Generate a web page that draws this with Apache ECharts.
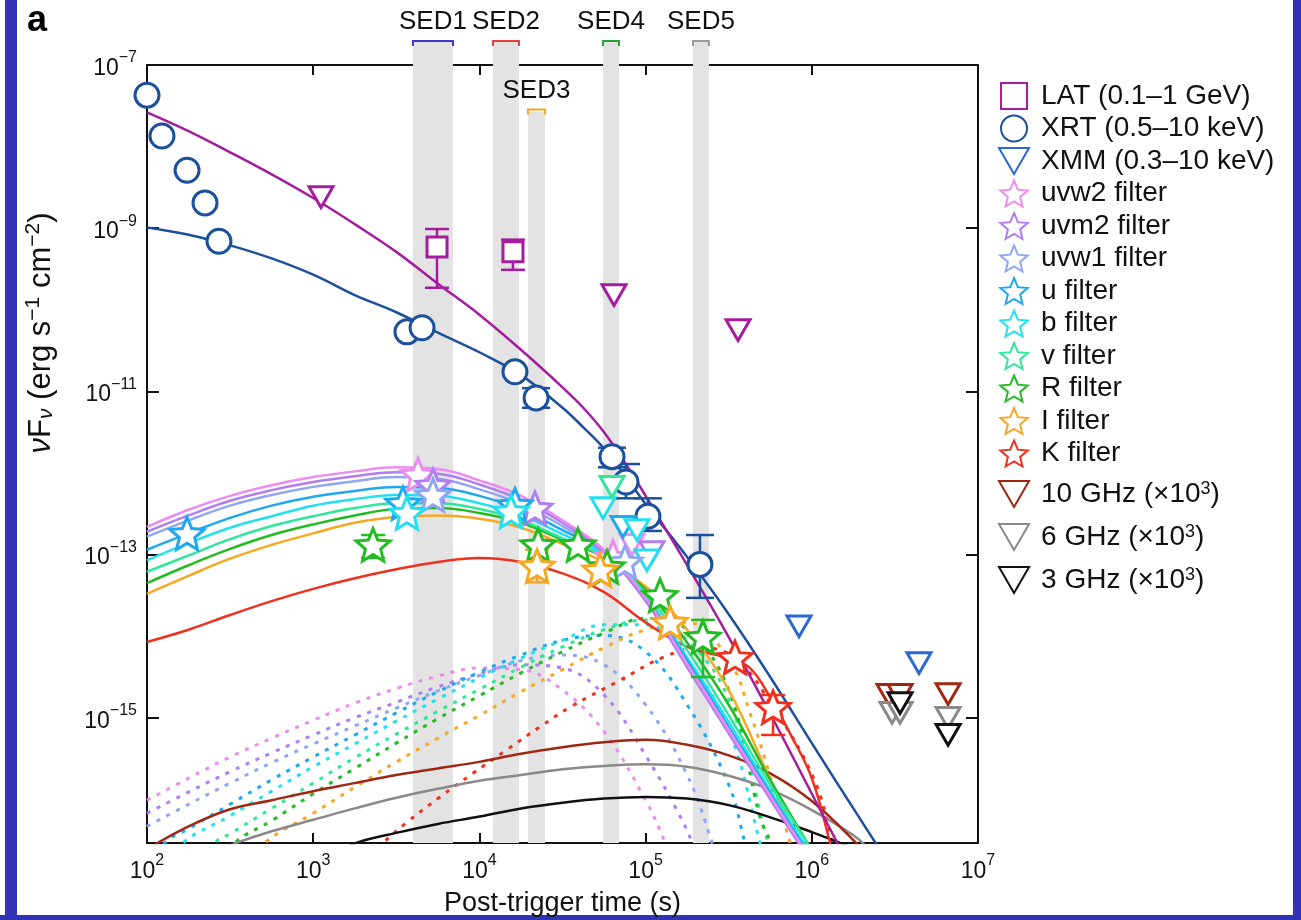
<!DOCTYPE html>
<html>
<head>
<meta charset="utf-8">
<script src="https://cdn.jsdelivr.net/npm/echarts@6/dist/echarts.min.js"></script>
<style>
html, body { margin: 0; padding: 0; background: #fff; }
#main { width: 1301px; height: 920px; }
</style>
</head>
<body>
<div id="main"></div>
<script>
// every value below is log10: [log10 t (s), log10 nuFnu (erg s-1 cm-2)]
// error bars: [log10 t, low, high]

// --- SED windows
var sedNames = ['SED1', 'SED2', 'SED3', 'SED4', 'SED5'];
var sedStart = [3.600, 4.082, 4.292, 4.744, 5.285];
var sedEnd = [3.841, 4.238, 4.395, 4.840, 5.381];
var sedColors = ['#3a3acc', '#e54040', '#f5a623', '#2e9e3a', '#9a9a9a'];
var sed3Top = -7.57;

// --- measurements
var latPts = [[3.745, -9.23], [4.202, -9.29]];
var latErr = [[3.745, -9.73, -9.01], [4.202, -9.51, -9.14]];
var latUL = [[3.047, -8.62], [4.810, -9.82], [5.556, -10.25]];
var xrtPts = [[2.0, -7.37], [2.090, -7.87], [2.241, -8.29], [2.349, -8.69], [2.433, -9.16],
  [3.564, -10.27], [3.655, -10.22], [4.214, -10.76], [4.341, -11.08], [4.798, -11.80],
  [4.882, -12.11], [5.014, -12.53], [5.327, -13.12]];
var xrtErr = [[4.341, -11.20, -10.96], [4.798, -11.93, -11.69], [4.882, -12.31, -11.89],
  [5.014, -12.71, -12.31], [5.327, -13.53, -12.76]];
var xmmUL = [[5.923, -13.88], [6.645, -14.33]];

var uvw2Pts = [[3.631, -12.02], [4.804, -13.03]];
var uvm2Pts = [[3.721, -12.15], [4.334, -12.43]];
var uvw1Pts = [[3.721, -12.27], [4.876, -13.09]];
var uPts = [[2.241, -12.74], [3.540, -12.37], [4.214, -12.39]];
var bPts = [[3.564, -12.49], [4.190, -12.47]];
var vPts = [];
var rPts = [[3.360, -12.88], [4.353, -12.88], [4.593, -12.88], [4.768, -13.15], [5.087, -13.50], [5.345, -14.01]];
var rErr = [[3.360, -13.04, -12.76], [5.345, -14.50, -13.80]];
var iPts = [[4.347, -13.14], [4.726, -13.19], [5.147, -13.83]];
var iErr = [[4.347, -13.34, -12.94]];
var kPts = [[5.538, -14.26], [5.767, -14.87]];
var kErr = [[5.767, -15.21, -14.72]];

var uvw2UL = [[4.918, -12.88]];
var uvm2UL = [[5.038, -12.97]];
var uUL = [[4.864, -12.66]];
var bUL = [[4.744, -12.43], [4.948, -12.70], [5.008, -13.07]];
var vUL = [[4.798, -12.17]];

var r10Pts = [[6.465, -14.72], [6.531, -14.72], [6.820, -14.71]];
var r6Pts = [[6.483, -14.94], [6.531, -14.94], [6.820, -15.00]];
var r3Pts = [[6.531, -14.82], [6.820, -15.21]];

// --- model curves (solid)
var latModel = [[2.0, -7.58], [2.25, -7.81], [2.5, -8.07], [2.75, -8.34], [3.0, -8.63], [3.25, -8.95],
  [3.5, -9.29], [3.75, -9.68], [4.0, -10.06], [4.25, -10.49], [4.5, -10.95], [4.625, -11.20], [4.75, -11.50],
  [4.875, -11.87], [5.0, -12.28], [5.25, -13.13], [5.5, -14.01], [5.75, -14.95], [6.0, -15.93], [6.25, -16.91]];
var xrtModel = [[2.0, -8.99], [2.25, -9.08], [2.5, -9.21], [2.75, -9.37], [3.0, -9.57], [3.25, -9.82],
  [3.5, -10.03], [3.75, -10.28], [4.0, -10.52], [4.25, -10.80], [4.5, -11.20], [4.625, -11.44], [4.75, -11.70],
  [4.875, -12.03], [5.0, -12.38], [5.25, -13.03], [5.5, -13.73], [5.75, -14.50], [6.0, -15.31], [6.25, -16.11], [6.5, -16.90]];
var optT = [2.0, 2.25, 2.5, 2.75, 3.0, 3.25, 3.5, 3.75, 4.0, 4.25, 4.5, 4.75, 5.0, 5.25, 5.5, 5.75, 6.0];
var uvw2Model = [-12.66, -12.45, -12.28, -12.15, -12.05, -11.98, -11.93, -11.95, -12.09, -12.28, -12.58, -12.94, -13.53, -14.34, -15.15, -15.96, -16.76];
var uvm2Model = [-12.72, -12.52, -12.34, -12.21, -12.11, -12.04, -11.99, -12.01, -12.14, -12.33, -12.61, -12.97, -13.57, -14.38, -15.19, -16.00, -16.79];
var uvw1Model = [-12.78, -12.58, -12.40, -12.27, -12.17, -12.10, -12.05, -12.07, -12.20, -12.38, -12.65, -12.98, -13.56, -14.35, -15.15, -15.97, -16.77];
var uModel = [-12.94, -12.74, -12.55, -12.40, -12.29, -12.22, -12.17, -12.18, -12.28, -12.45, -12.70, -12.98, -13.53, -14.30, -15.11, -15.93, -16.73];
var bModel = [-13.07, -12.86, -12.67, -12.53, -12.40, -12.32, -12.27, -12.28, -12.37, -12.52, -12.75, -13.01, -13.51, -14.26, -15.05, -15.89, -16.68];
var vModel = [-13.21, -13.01, -12.81, -12.65, -12.53, -12.43, -12.37, -12.37, -12.44, -12.58, -12.80, -13.03, -13.47, -14.17, -14.97, -15.82, -16.62];
var rModel = [-13.35, -13.13, -12.93, -12.76, -12.63, -12.52, -12.44, -12.43, -12.49, -12.61, -12.82, -13.04, -13.43, -14.08, -14.84, -15.76, -16.62];
var iModel = [-13.48, -13.26, -13.05, -12.88, -12.74, -12.61, -12.54, -12.52, -12.56, -12.67, -12.87, -13.09, -13.39, -13.92, -14.66, -15.76, -16.87];
var kModel = [[2.0, -14.07], [2.25, -13.92], [2.5, -13.74], [2.75, -13.57], [3.0, -13.42], [3.25, -13.29],
  [3.5, -13.18], [3.75, -13.09], [4.0, -13.04], [4.25, -13.09], [4.5, -13.23], [4.75, -13.46],
  [5.0, -13.83], [5.25, -14.13], [5.5, -14.27], [5.628, -14.39], [5.75, -14.75], [5.869, -15.19],
  [6.0, -15.74], [6.11, -16.53], [6.2, -17.2]];
var r10Model = [[2.0, -16.61], [2.25, -16.33], [2.5, -16.12], [2.75, -16.01], [3.0, -15.90], [3.25, -15.80],
  [3.5, -15.70], [3.75, -15.62], [4.0, -15.54], [4.25, -15.44], [4.5, -15.36], [4.75, -15.30],
  [5.0, -15.27], [5.25, -15.33], [5.5, -15.46], [5.75, -15.68], [6.0, -16.02], [6.25, -16.50], [6.35, -16.74]];
var r6Model = [[2.4, -16.65], [2.542, -16.53], [2.75, -16.39], [3.0, -16.25], [3.25, -16.11], [3.5, -15.98],
  [3.75, -15.87], [4.0, -15.77], [4.25, -15.70], [4.5, -15.63], [4.75, -15.59], [5.0, -15.57],
  [5.25, -15.60], [5.5, -15.71], [5.75, -15.88], [6.0, -16.13], [6.25, -16.44], [6.35, -16.62]];
var r3Model = [[3.15, -16.65], [3.264, -16.53], [3.5, -16.41], [3.75, -16.30], [4.0, -16.21], [4.25, -16.11],
  [4.5, -16.04], [4.75, -15.99], [5.0, -15.97], [5.25, -15.99], [5.5, -16.07], [5.75, -16.22],
  [6.0, -16.40], [6.23, -16.58]];

// --- model curves (dotted)
var uvw2Dot = [[2.0, -16.01], [2.25, -15.74], [2.5, -15.48], [2.75, -15.25], [3.0, -15.03], [3.25, -14.82],
  [3.5, -14.64], [3.75, -14.49], [4.0, -14.39], [4.25, -14.41], [4.5, -14.66], [4.75, -15.17],
  [5.0, -16.01], [5.117, -16.53], [5.2, -17.0]];
var uvm2Dot = [[2.0, -16.17], [2.25, -15.91], [2.5, -15.66], [2.75, -15.43], [3.0, -15.21], [3.25, -15.00],
  [3.5, -14.81], [3.75, -14.62], [4.0, -14.46], [4.25, -14.35], [4.5, -14.39], [4.75, -14.72],
  [5.0, -15.46], [5.25, -16.38], [5.3, -16.7]];
var uvw1Dot = [[2.0, -16.33], [2.25, -16.06], [2.5, -15.80], [2.75, -15.55], [3.0, -15.32], [3.25, -15.10],
  [3.5, -14.88], [3.75, -14.67], [4.0, -14.48], [4.25, -14.30], [4.5, -14.23], [4.75, -14.35],
  [5.0, -14.84], [5.25, -15.70], [5.4, -16.53], [5.45, -16.9]];
var uDot = [[2.0, -16.9], [2.108, -16.53], [2.25, -16.36], [2.5, -16.06], [2.75, -15.76], [3.0, -15.48],
  [3.25, -15.21], [3.5, -14.94], [3.75, -14.68], [4.0, -14.44], [4.25, -14.23], [4.5, -14.05],
  [4.75, -13.99], [5.0, -14.19], [5.25, -14.84], [5.5, -15.82], [5.598, -16.53], [5.65, -16.9]];
var bDot = [[2.1, -16.85], [2.217, -16.53], [2.5, -16.20], [2.75, -15.90], [3.0, -15.60], [3.25, -15.32],
  [3.5, -15.04], [3.75, -14.77], [4.0, -14.51], [4.25, -14.27], [4.5, -14.05], [4.75, -13.86],
  [5.0, -13.86], [5.25, -14.29], [5.5, -15.15], [5.688, -16.53], [5.73, -16.9]];
var vDot = [[2.3, -16.85], [2.409, -16.53], [2.5, -16.42], [2.75, -16.11], [3.0, -15.80], [3.25, -15.49],
  [3.5, -15.20], [3.75, -14.92], [4.0, -14.65], [4.25, -14.38], [4.5, -14.13], [4.75, -13.92],
  [5.0, -13.80], [5.25, -14.05], [5.5, -14.78], [5.736, -16.53], [5.78, -16.9]];
var rDot = [[2.42, -16.85], [2.529, -16.53], [2.75, -16.26], [3.0, -15.93], [3.25, -15.62], [3.5, -15.31],
  [3.75, -15.01], [4.0, -14.73], [4.25, -14.45], [4.5, -14.19], [4.75, -13.96], [5.0, -13.78],
  [5.25, -13.92], [5.5, -14.66], [5.688, -16.22], [5.752, -16.53], [5.8, -16.9]];
var iDot = [[2.6, -16.85], [2.710, -16.53], [3.0, -16.17], [3.25, -15.85], [3.5, -15.54], [3.75, -15.25],
  [4.0, -14.97], [4.25, -14.68], [4.5, -14.41], [4.75, -14.14], [5.0, -13.92], [5.25, -13.83],
  [5.5, -14.29], [5.628, -14.94], [5.752, -15.73], [5.869, -16.53], [5.92, -16.9]];
var kDot = [[3.3, -16.8], [3.402, -16.57], [3.564, -16.28], [3.763, -15.97], [3.961, -15.68], [4.166, -15.39],
  [4.365, -15.11], [4.545, -14.87], [4.846, -14.54], [5.105, -14.26], [5.327, -14.14], [5.538, -14.27],
  [5.767, -14.87], [6.011, -15.74], [6.125, -16.53], [6.2, -17.1]];

var xTicks = [2, 3, 4, 5, 6, 7];
var yTicks = [-15, -13, -11, -9, -7];

// ---------------------------------------------------------------
var FONT = '"Liberation Sans", Arial, Helvetica, sans-serif';
var STAR = 'path://M10,0L12.645,6.359L19.511,6.910L14.280,11.391L15.878,18.090L10,14.5L4.122,18.090L5.720,11.391L0.489,6.910L7.355,6.359Z';
var TRI = 'path://M0,0L20,0L10,17.3Z';
var SQR = 'path://M0,0L20,0L20,20L0,20Z';

var C = {
  lat: '#a51c9f', xrt: '#1c4f9c', xmm: '#2a6ad0',
  uvw2: '#ec8cf0', uvm2: '#b07ef0', uvw1: '#8fa6f2', u: '#1fa8ee', b: '#22e0f0',
  v: '#2ee89a', R: '#22bb22', I: '#f7a823', K: '#f0301e',
  g10: '#a02714', g6: '#8c8888', g3: '#111111'
};

function withT(vals) {
  var out = [];
  for (var i = 0; i < vals.length; i++) out.push([optT[i], vals[i]]);
  return out;
}

function pts(name, data, symbol, size, color) {
  return {
    type: 'scatter', name: name, data: data, symbol: symbol, symbolSize: size,
    symbolKeepAspect: true, z: 5, silent: true,
    itemStyle: { color: '#ffffff', borderColor: color, borderWidth: 3, opacity: 1 }
  };
}

function curve(name, data, color, dotted) {
  return {
    type: 'line', name: name, data: data, showSymbol: false, symbol: 'none',
    smooth: 0.4, clip: true, silent: true, z: dotted ? 1 : 2,
    lineStyle: { color: color, width: dotted ? 3 : 2.5, type: dotted ? [4, 7] : 'solid' }
  };
}

function errBars(data, color, half) {
  return {
    type: 'custom', data: data, z: 4, silent: true,
    encode: { x: 0, y: [1, 2] },
    renderItem: function (params, api) {
      var x = api.value(0);
      var p1 = api.coord([x, api.value(1)]);
      var p2 = api.coord([x, api.value(2)]);
      var st = { stroke: color, lineWidth: 2.5 };
      return {
        type: 'group', children: [
          { type: 'line', shape: { x1: p1[0], y1: p1[1], x2: p2[0], y2: p2[1] }, style: st },
          { type: 'line', shape: { x1: p1[0] - half, y1: p1[1], x2: p1[0] + half, y2: p1[1] }, style: st },
          { type: 'line', shape: { x1: p2[0] - half, y1: p2[1], x2: p2[0] + half, y2: p2[1] }, style: st }
        ]
      };
    }
  };
}

var bandData = [];
for (var i = 0; i < sedNames.length; i++) {
  if (i === 2) bandData.push([{ xAxis: sedStart[i], yAxis: -16.534 }, { xAxis: sedEnd[i], yAxis: sed3Top }]);
  else bandData.push([{ xAxis: sedStart[i] }, { xAxis: sedEnd[i] }]);
}

var series = [
  {
    type: 'line', data: [[2, -20]], showSymbol: false, lineStyle: { opacity: 0 }, z: 0, silent: true,
    markArea: { silent: true, itemStyle: { color: '#e3e3e3' }, data: bandData }
  },
  curve('d-uvw2', uvw2Dot, C.uvw2, true),
  curve('d-uvm2', uvm2Dot, C.uvm2, true),
  curve('d-uvw1', uvw1Dot, C.uvw1, true),
  curve('d-u', uDot, C.u, true),
  curve('d-b', bDot, C.b, true),
  curve('d-v', vDot, C.v, true),
  curve('d-R', rDot, C.R, true),
  curve('d-I', iDot, C.I, true),
  curve('d-K', kDot, C.K, true),
  curve('m-3', r3Model, C.g3, false),
  curve('m-6', r6Model, C.g6, false),
  curve('m-10', r10Model, C.g10, false),
  curve('m-K', kModel, C.K, false),
  curve('m-I', withT(iModel), C.I, false),
  curve('m-R', withT(rModel), C.R, false),
  curve('m-v', withT(vModel), C.v, false),
  curve('m-b', withT(bModel), C.b, false),
  curve('m-u', withT(uModel), C.u, false),
  curve('m-uvw1', withT(uvw1Model), C.uvw1, false),
  curve('m-uvm2', withT(uvm2Model), C.uvm2, false),
  curve('m-uvw2', withT(uvw2Model), C.uvw2, false),
  curve('m-xrt', xrtModel, C.xrt, false),
  curve('m-lat', latModel, C.lat, false),
  errBars(latErr, C.lat, 12),
  errBars(xrtErr, C.xrt, 14),
  errBars(rErr, C.R, 12),
  errBars(iErr, C.I, 12),
  errBars(kErr, C.K, 12),
  pts('LAT (0.1–1 GeV)', latPts, SQR, 20, C.lat),
  pts('LAT UL', latUL, TRI, 24, C.lat),
  pts('XRT (0.5–10 keV)', xrtPts, 'circle', 24, C.xrt),
  pts('XMM (0.3–10 keV)', xmmUL, TRI, 24, C.xmm),
  pts('uv UL1', uvw2UL, TRI, 24, C.uvw2),
  pts('uv UL2', uvm2UL, TRI, 24, C.uvm2),
  pts('uv UL3', uUL, TRI, 24, C.u),
  pts('uv UL4', bUL, TRI, 24, C.b),
  pts('uv UL5', vUL, TRI, 24, C.v),
  pts('uvw2 filter', uvw2Pts, STAR, 34, C.uvw2),
  pts('uvm2 filter', uvm2Pts, STAR, 34, C.uvm2),
  pts('uvw1 filter', uvw1Pts, STAR, 34, C.uvw1),
  pts('u filter', uPts, STAR, 34, C.u),
  pts('b filter', bPts, STAR, 34, C.b),
  pts('v filter', vPts, STAR, 34, C.v),
  pts('R filter', rPts, STAR, 34, C.R),
  pts('I filter', iPts, STAR, 34, C.I),
  pts('K filter', kPts, STAR, 34, C.K),
  pts('10 GHz', r10Pts, TRI, 24, C.g10),
  pts('6 GHz', r6Pts, TRI, 24, C.g6),
  pts('3 GHz', r3Pts, TRI, 24, C.g3)
];

var axisLine = { show: true, onZero: false, lineStyle: { color: '#111', width: 2 } };
var axisTick = { show: true, inside: true, length: 10, lineStyle: { color: '#111', width: 2 } };
var tickRich = {
  b: { fontSize: 23, fontFamily: FONT, color: '#111', lineHeight: 30, verticalAlign: 'bottom' },
  s: { fontSize: 16, fontFamily: FONT, color: '#111', lineHeight: 16, verticalAlign: 'top' }
};

var chart = echarts.init(document.getElementById('main'));
chart.setOption({
  animation: false,
  backgroundColor: '#ffffff',
  textStyle: { fontFamily: FONT },
  grid: { left: 147, right: 323, top: 65, bottom: 77, containLabel: false, outerBoundsMode: 'none' },
  xAxis: [{
    type: 'value', min: 2, max: 7, interval: 1, position: 'bottom',
    axisLine: axisLine, axisTick: axisTick, splitLine: { show: false },
    axisLabel: {
      margin: 10, formatter: function (v) { return '{b|10}{s|' + v + '}'; }, rich: tickRich
    },
    name: 'Post-trigger time (s)', nameLocation: 'middle', nameGap: 47,
    nameTextStyle: { fontSize: 27, fontFamily: FONT, color: '#111' }
  }, {
    type: 'value', min: 2, max: 7, interval: 1, position: 'top',
    axisLine: axisLine, axisTick: axisTick, splitLine: { show: false }, axisLabel: { show: false }
  }],
  yAxis: [{
    type: 'value', min: -16.534, max: -7, position: 'left',
    axisLine: axisLine, splitLine: { show: false },
    axisTick: { show: true, inside: true, length: 12, customValues: yTicks, lineStyle: { color: '#111', width: 2 } },
    axisLabel: {
      margin: 10, customValues: yTicks, rich: tickRich,
      formatter: function (v) { return '{b|10}{s|−' + Math.round(-v) + '}'; }
    }
  }, {
    type: 'value', min: -16.534, max: -7, position: 'right',
    axisLine: axisLine, splitLine: { show: false }, axisLabel: { show: false },
    axisTick: { show: true, inside: true, length: 12, customValues: yTicks, lineStyle: { color: '#111', width: 2 } }
  }],
  legend: [{
    data: ['LAT (0.1–1 GeV)', 'XRT (0.5–10 keV)', 'XMM (0.3–10 keV)', 'uvw2 filter', 'uvm2 filter',
      'uvw1 filter', 'u filter', 'b filter', 'v filter', 'R filter', 'I filter', 'K filter'],
    orient: 'vertical', left: 993, top: 77, itemWidth: 44, itemHeight: 26, itemGap: 4.5,
    selectedMode: false,
    textStyle: { fontSize: 28, fontFamily: FONT, color: '#111' }
  }, {
    data: ['10 GHz', '6 GHz', '3 GHz'],
    orient: 'vertical', left: 993, top: 475, itemWidth: 44, itemHeight: 26, itemGap: 15,
    selectedMode: false,
    formatter: function (n) { return n + ' (×10{s|3})'; },
    textStyle: {
      fontSize: 28, fontFamily: FONT, color: '#111',
      rich: { s: { fontSize: 18, fontFamily: FONT, color: '#111', lineHeight: 14, verticalAlign: 'top' } }
    }
  }],
  series: series
});

// decorations placed from axis coordinates
var gr = [
  { type: 'rect', silent: true, shape: { x: 5, y: 0, width: 12, height: 920 }, style: { fill: '#3232b6' } },
  { type: 'rect', silent: true, shape: { x: 1293, y: 0, width: 8, height: 920 }, style: { fill: '#3232b6' } },
  { type: 'rect', silent: true, shape: { x: 0, y: 915, width: 1301, height: 5 }, style: { fill: '#3232b6' } },
  { type: 'text', silent: true, x: 27, y: 3, style: { text: 'a', fontSize: 36, fontWeight: 'bold', fontFamily: FONT, fill: '#000' } },
  {
    type: 'text', silent: true, x: 40, y: 333, rotation: Math.PI / 2,
    style: {
      text: '{i|ν}{n|F}{sub|ν}{n| (erg s}{sup|−1}{n| cm}{sup|−2}{n|)}',
      align: 'center', verticalAlign: 'middle',
      rich: {
        i: { fontSize: 31, fontStyle: 'italic', fontFamily: FONT, fill: '#111', lineHeight: 34, verticalAlign: 'bottom' },
        n: { fontSize: 31, fontFamily: FONT, fill: '#111', lineHeight: 34, verticalAlign: 'bottom' },
        sub: { fontSize: 21, fontStyle: 'italic', fontFamily: FONT, fill: '#111', lineHeight: 26, verticalAlign: 'bottom' },
        sup: { fontSize: 21, fontFamily: FONT, fill: '#111', lineHeight: 21, verticalAlign: 'top' }
      }
    }
  }
];
for (var j = 0; j < sedNames.length; j++) {
  var x0 = chart.convertToPixel({ xAxisIndex: 0 }, sedStart[j]);
  var x1 = chart.convertToPixel({ xAxisIndex: 0 }, sedEnd[j]);
  var yb = 41;
  if (j === 2) {
    yb = chart.convertToPixel({ yAxisIndex: 0 }, sed3Top) - 2;
  } else {
    gr.push({ type: 'rect', silent: true, z: 1, shape: { x: x0, y: yb + 1, width: x1 - x0, height: 65 - yb - 1 }, style: { fill: '#e3e3e3' } });
  }
  gr.push({ type: 'polyline', silent: true, z: 2, shape: { points: [[x0, yb + 5], [x0, yb], [x1, yb], [x1, yb + 5]] },
    style: { stroke: sedColors[j], lineWidth: 2, fill: null } });
  gr.push({ type: 'text', silent: true, z: 2, x: (x0 + x1) / 2, y: yb - 6,
    style: { text: sedNames[j], fontSize: 26, fontFamily: FONT, fill: '#111', align: 'center', verticalAlign: 'bottom' } });
}
chart.setOption({ graphic: gr });
</script>
</body>
</html>
